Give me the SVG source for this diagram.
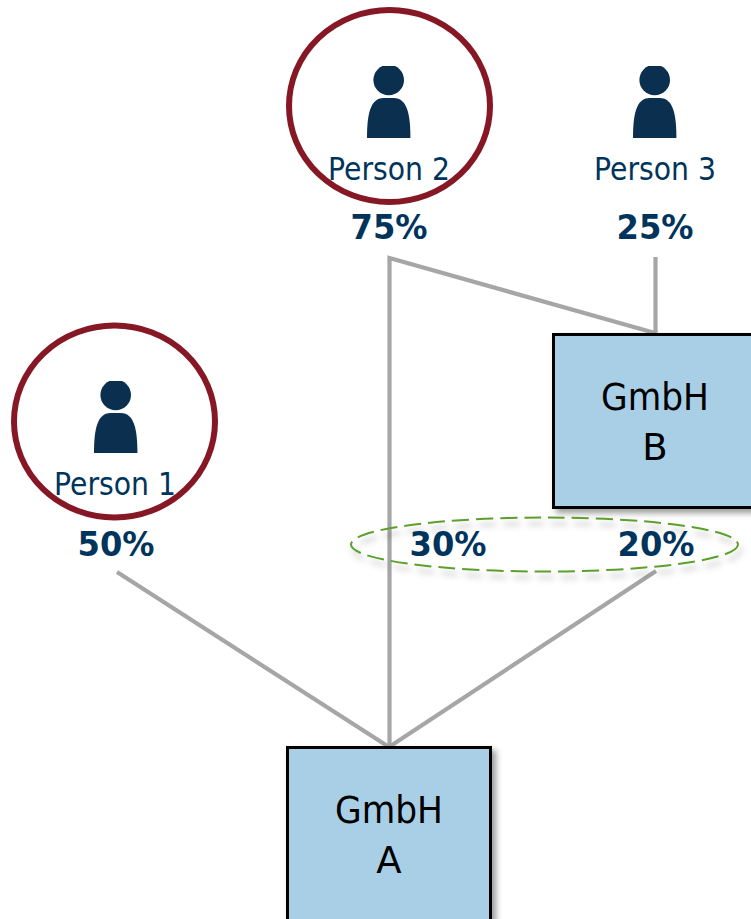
<svg xmlns="http://www.w3.org/2000/svg" width="751" height="919" viewBox="0 0 751 919">
<style>
text{font-family:"DejaVu Sans","Liberation Sans",sans-serif;text-anchor:middle}
.name{font-size:32px;fill:#00345c}
.pct{font-size:33.5px;font-weight:700;fill:#00345c}
.box{fill:#a9cfe7;stroke:#000;stroke-width:3;filter:url(#sh)}
.lbl{font-size:37px;fill:#000}
.ring{fill:none;stroke:#861825;stroke-width:6}
.conn{fill:none;stroke:#a6a6a6;stroke-width:4.2}
.icon{fill:#0b2f4f}
</style>
<defs>
<filter id="sh" x="-10%" y="-10%" width="125%" height="125%"><feDropShadow dx="4" dy="4" stdDeviation="3" flood-color="#000" flood-opacity=".4"/></filter>
<filter id="sh2" x="-10%" y="-40%" width="120%" height="200%"><feDropShadow dx="3" dy="6" stdDeviation="3" flood-color="#000" flood-opacity=".3"/></filter>
<clipPath id="hc"><rect x="-25" y="-14" width="50" height="40"/></clipPath>
<g id="person"><circle cx="0" cy="0" r="15.3" clip-path="url(#hc)"/><path d="M-21.7 58C-21.7 36-19 18-5 18H5C19 18 21.7 36 21.7 58Z"/></g>
</defs>
<g id="connectors" class="conn">
<path d="M389.5 747V258L655 333"/>
<path d="M655.5 257V333"/>
<path d="M117 572L389 747L656 571"/>
</g>
<g id="person-2">
<use href="#person" x="388.7" y="80" class="icon"/>
<text class="name" x="389" y="180" textLength="122" lengthAdjust="spacingAndGlyphs">Person 2</text>
<ellipse class="ring" cx="389.5" cy="106" rx="100.5" ry="96"/>
<text class="pct" x="389" y="239" textLength="77" lengthAdjust="spacingAndGlyphs">75%</text>
</g>
<g id="person-3">
<use href="#person" x="654.7" y="80" class="icon"/>
<text class="name" x="655" y="180" textLength="122" lengthAdjust="spacingAndGlyphs">Person 3</text>
<text class="pct" x="655" y="239" textLength="77" lengthAdjust="spacingAndGlyphs">25%</text>
</g>
<g id="person-1">
<use href="#person" x="115.7" y="395" class="icon"/>
<text class="name" x="115" y="495" textLength="122" lengthAdjust="spacingAndGlyphs">Person 1</text>
<ellipse class="ring" cx="114.5" cy="421.5" rx="100.5" ry="96"/>
<text class="pct" x="116" y="556" textLength="77" lengthAdjust="spacingAndGlyphs">50%</text>
</g>
<g id="gmbh-b">
<rect class="box" x="553.5" y="334.5" width="210" height="173"/>
<text class="lbl" x="655" y="410" textLength="108" lengthAdjust="spacingAndGlyphs">GmbH</text>
<text class="lbl" x="655" y="460">B</text>
</g>
<g id="gmbh-a">
<rect class="box" x="287.5" y="747.5" width="203" height="190"/>
<text class="lbl" x="389" y="823" textLength="108" lengthAdjust="spacingAndGlyphs">GmbH</text>
<text class="lbl" x="389" y="873">A</text>
</g>
<g id="group-ellipse">
<ellipse cx="544.5" cy="544.5" rx="193.5" ry="27" fill="none" stroke="#5aa02c" stroke-width="2" stroke-dasharray="17 7" filter="url(#sh2)"/>
<text class="pct" x="448" y="556" textLength="77" lengthAdjust="spacingAndGlyphs">30%</text>
<text class="pct" x="656" y="556" textLength="77" lengthAdjust="spacingAndGlyphs">20%</text>
</g>
</svg>
